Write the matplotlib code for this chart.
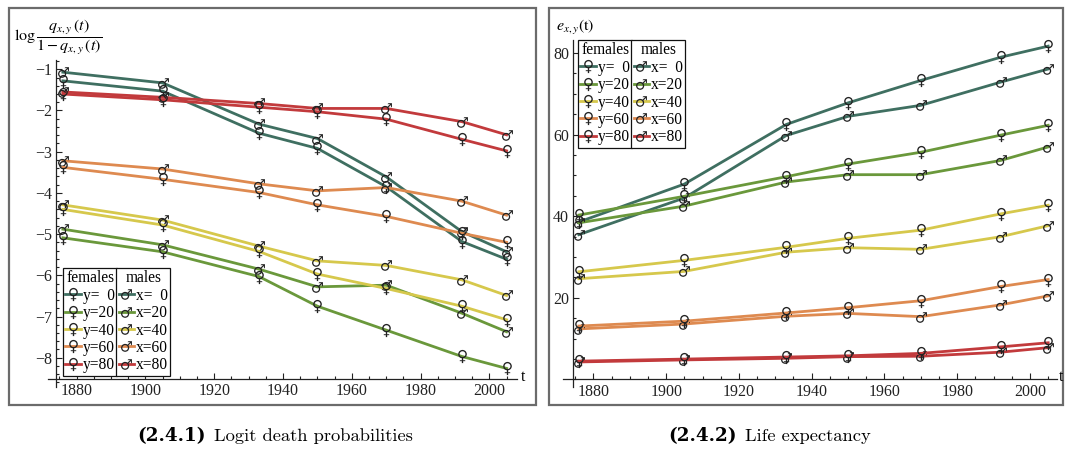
import matplotlib
matplotlib.use('Agg')
import matplotlib.pyplot as plt
from matplotlib.lines import Line2D
from matplotlib.patches import Rectangle
from matplotlib.textpath import TextPath
from matplotlib.font_manager import FontProperties
from matplotlib.path import Path
from matplotlib.ticker import MultipleLocator

plt.rcParams['font.family'] = ['Liberation Serif', 'DejaVu Serif']
plt.rcParams['mathtext.fontset'] = 'stix'

# observation years
years = [1876, 1905, 1933, 1950, 1970, 1992, 2005]
ages = [0, 20, 40, 60, 80]

# logit of death probabilities, females (y) and males (x)
lq_f0 = [-1.28, -1.53, -2.55, -2.92, -3.85, -5.18, -5.61]
lq_f20 = [-5.09, -5.43, -6.03, -6.75, -7.33, -7.97, -8.26]
lq_f40 = [-4.40, -4.78, -5.42, -5.97, -6.32, -6.75, -7.08]
lq_f60 = [-3.38, -3.67, -3.99, -4.29, -4.57, -4.98, -5.20]
lq_f80 = [-1.60, -1.74, -1.92, -2.03, -2.21, -2.70, -2.98]
lq_m0 = [-1.07, -1.33, -2.33, -2.68, -3.61, -4.94, -5.43]
lq_m20 = [-4.88, -5.26, -5.85, -6.28, -6.24, -6.92, -7.37]
lq_m40 = [-4.29, -4.66, -5.29, -5.65, -5.76, -6.11, -6.49]
lq_m60 = [-3.22, -3.42, -3.78, -3.95, -3.87, -4.20, -4.54]
lq_m80 = [-1.55, -1.68, -1.83, -1.95, -1.95, -2.27, -2.59]

# remaining life expectancy
e_f0 = [38.6, 47.9, 62.5, 67.8, 73.3, 79.0, 81.7]
e_f20 = [40.3, 44.9, 49.7, 52.8, 55.7, 59.9, 62.3]
e_f40 = [26.4, 29.2, 32.4, 34.6, 36.6, 40.6, 42.7]
e_f60 = [13.1, 14.3, 16.3, 17.6, 19.3, 22.8, 24.5]
e_f80 = [4.5, 5.0, 5.5, 5.8, 6.4, 8.0, 9.0]
e_m0 = [35.5, 44.5, 59.8, 64.5, 67.2, 72.9, 76.1]
e_m20 = [38.4, 42.5, 48.4, 50.2, 50.2, 53.7, 57.0]
e_m40 = [24.7, 26.5, 31.2, 32.3, 31.9, 35.0, 37.7]
e_m60 = [12.4, 13.6, 15.5, 16.2, 15.4, 18.3, 20.5]
e_m80 = [4.3, 4.8, 5.2, 5.6, 5.7, 6.7, 7.8]

colors = ['#3f6f61', '#6a983b', '#d6c84c', '#de8a50', '#c23a3c']

lq_f = [lq_f0, lq_f20, lq_f40, lq_f60, lq_f80]
lq_m = [lq_m0, lq_m20, lq_m40, lq_m60, lq_m80]
e_f = [e_f0, e_f20, e_f40, e_f60, e_f80]
e_m = [e_m0, e_m20, e_m40, e_m60, e_m80]


def glyph(ch):
    tp = TextPath((0, 0), ch, size=10, prop=FontProperties(family='DejaVu Sans'))
    ext = tp.get_extents()
    v = tp.vertices - [(ext.x0 + ext.x1) / 2, (ext.y0 + ext.y1) / 2]
    return Path(v, tp.codes)


FEM = glyph('\u2640')
MAL = glyph('\u2642')

W, H = 1070, 453
fig = plt.figure(figsize=(W / 100, H / 100), dpi=100)


def px_axes(x0, y0, x1, y1):
    return fig.add_axes([x0 / W, 1 - y1 / H, (x1 - x0) / W, (y1 - y0) / H])


def fx(x):
    return x / W


def fy(y):
    return 1 - y / H


line_kw = dict(lw=2.0, ms=9.5, mfc='#222222', mec='#222222', mew=0)


def style_axes(ax, xlim, ylim, x0, y0, ytop, xstart, xend):
    ax.set_xlim(*xlim)
    ax.set_ylim(*ylim)
    ax.patch.set_visible(False)
    for s in ['top', 'right']:
        ax.spines[s].set_visible(False)
    ax.spines['left'].set_position(('data', x0))
    ax.spines['bottom'].set_position(('data', y0))
    ax.spines['left'].set_bounds(ylim[0], ytop)
    ax.spines['bottom'].set_bounds(xstart, xend)
    for s in ['left', 'bottom']:
        ax.spines[s].set_color('#222222')
        ax.spines[s].set_linewidth(0.9)
    ax.xaxis.set_minor_locator(MultipleLocator(5))
    ax.tick_params(which='both', direction='in', colors='#222222', width=0.8,
                   labelsize=11.5, pad=3)
    ax.tick_params(which='major', length=4)
    ax.tick_params(which='minor', length=2.3)
    ax.set_xticks([1880, 1900, 1920, 1940, 1960, 1980, 2000])


def add_legend(ax, x, y):
    fh = [Line2D([], [], color=c, marker=FEM, **line_kw) for c in colors]
    mh = [Line2D([], [], color=c, marker=MAL, **line_kw) for c in colors]
    fl = ['y=  0' if a == 0 else 'y=%d' % a for a in ages]
    ml = ['x=  0' if a == 0 else 'x=%d' % a for a in ages]
    kw = dict(fontsize=11.2, title_fontsize=11.2, frameon=True, fancybox=False,
              framealpha=1, edgecolor='#111111', borderpad=0.15,
              handlelength=1.0, handletextpad=0.12, labelspacing=0.09,
              borderaxespad=0, numpoints=1, loc='upper left')
    leg1 = ax.legend(fh, fl, title='females', bbox_to_anchor=(fx(x), fy(y)),
                     bbox_transform=fig.transFigure, **kw)
    leg1.get_frame().set_linewidth(0.9)
    leg1._legend_box.sep = 1
    ax.add_artist(leg1)
    fig.canvas.draw()
    bb = leg1.get_window_extent().transformed(fig.transFigure.inverted())
    leg2 = ax.legend(mh, ml, title='males', bbox_to_anchor=(bb.x1 - 1 / W, bb.y1),
                     bbox_transform=fig.transFigure, **kw)
    leg2.get_frame().set_linewidth(0.9)
    leg2._legend_box.sep = 1


# left panel: logit death probabilities
ax1 = px_axes(46, 55, 520, 387)
for c, f, m in zip(colors, lq_f, lq_m):
    ax1.plot(years, m, color=c, marker=MAL, **line_kw)
    ax1.plot(years, f, color=c, marker=FEM, **line_kw)
style_axes(ax1, (1871.1, 2008.9), (-8.711, -0.653), 1874, -8.52, -0.78, 1871.7, 2007.9)
ax1.set_yticks([-1, -2, -3, -4, -5, -6, -7, -8])
ax1.yaxis.set_minor_locator(MultipleLocator(0.2))
add_legend(ax1, 63, 268)

# right panel: life expectancy
ax2 = px_axes(561, 38, 1058, 387)
for c, f, m in zip(colors, e_f, e_m):
    ax2.plot(years, m, color=c, marker=MAL, **line_kw)
    ax2.plot(years, f, color=c, marker=FEM, **line_kw)
style_axes(ax2, (1871.1, 2007.7), (-1.84, 83.7), 1874.5, 0, 83.3, 1871.7, 2007.4)
ax2.set_yticks([20, 40, 60, 80])
ax2.yaxis.set_minor_locator(MultipleLocator(5))
add_legend(ax2, 578, 40)

# axis labels
fig.text(fx(14), fy(37), r'$\log\dfrac{q_{x,y}\,(t)}{1-q_{x,y}\,(t)}$', fontsize=11.5,
         ha='left', va='center')
fig.text(fx(556), fy(28), r'$e_{x,y}(\mathrm{t})$', fontsize=11.5, ha='left', va='center')
fig.text(fx(521), fy(377), 't', fontsize=11.5, ha='left', va='center')
fig.text(fx(1059), fy(377), 't', fontsize=11.5, ha='left', va='center')

# panel frames
for x0, x1 in [(9, 536), (549, 1063)]:
    fig.patches.append(Rectangle((fx(x0), fy(405)), (x1 - x0) / W, (405 - 8) / H,
                                 transform=fig.transFigure, fill=False,
                                 edgecolor='#6b6b6b', lw=1.6))

# captions: bold number, regular title
for xb, num, title in [(206, '(2.4.1)', 'Logit death probabilities'),
                       (737, '(2.4.2)', 'Life expectancy')]:
    fig.text(fx(xb), fy(436), num, family='DejaVu Serif', weight='bold',
             fontsize=13.2, ha='right', va='center')
    fig.text(fx(xb + 8), fy(436), title, family='cmr10', fontsize=13.3,
             ha='left', va='center')

fig.savefig('out.png', dpi=100)
